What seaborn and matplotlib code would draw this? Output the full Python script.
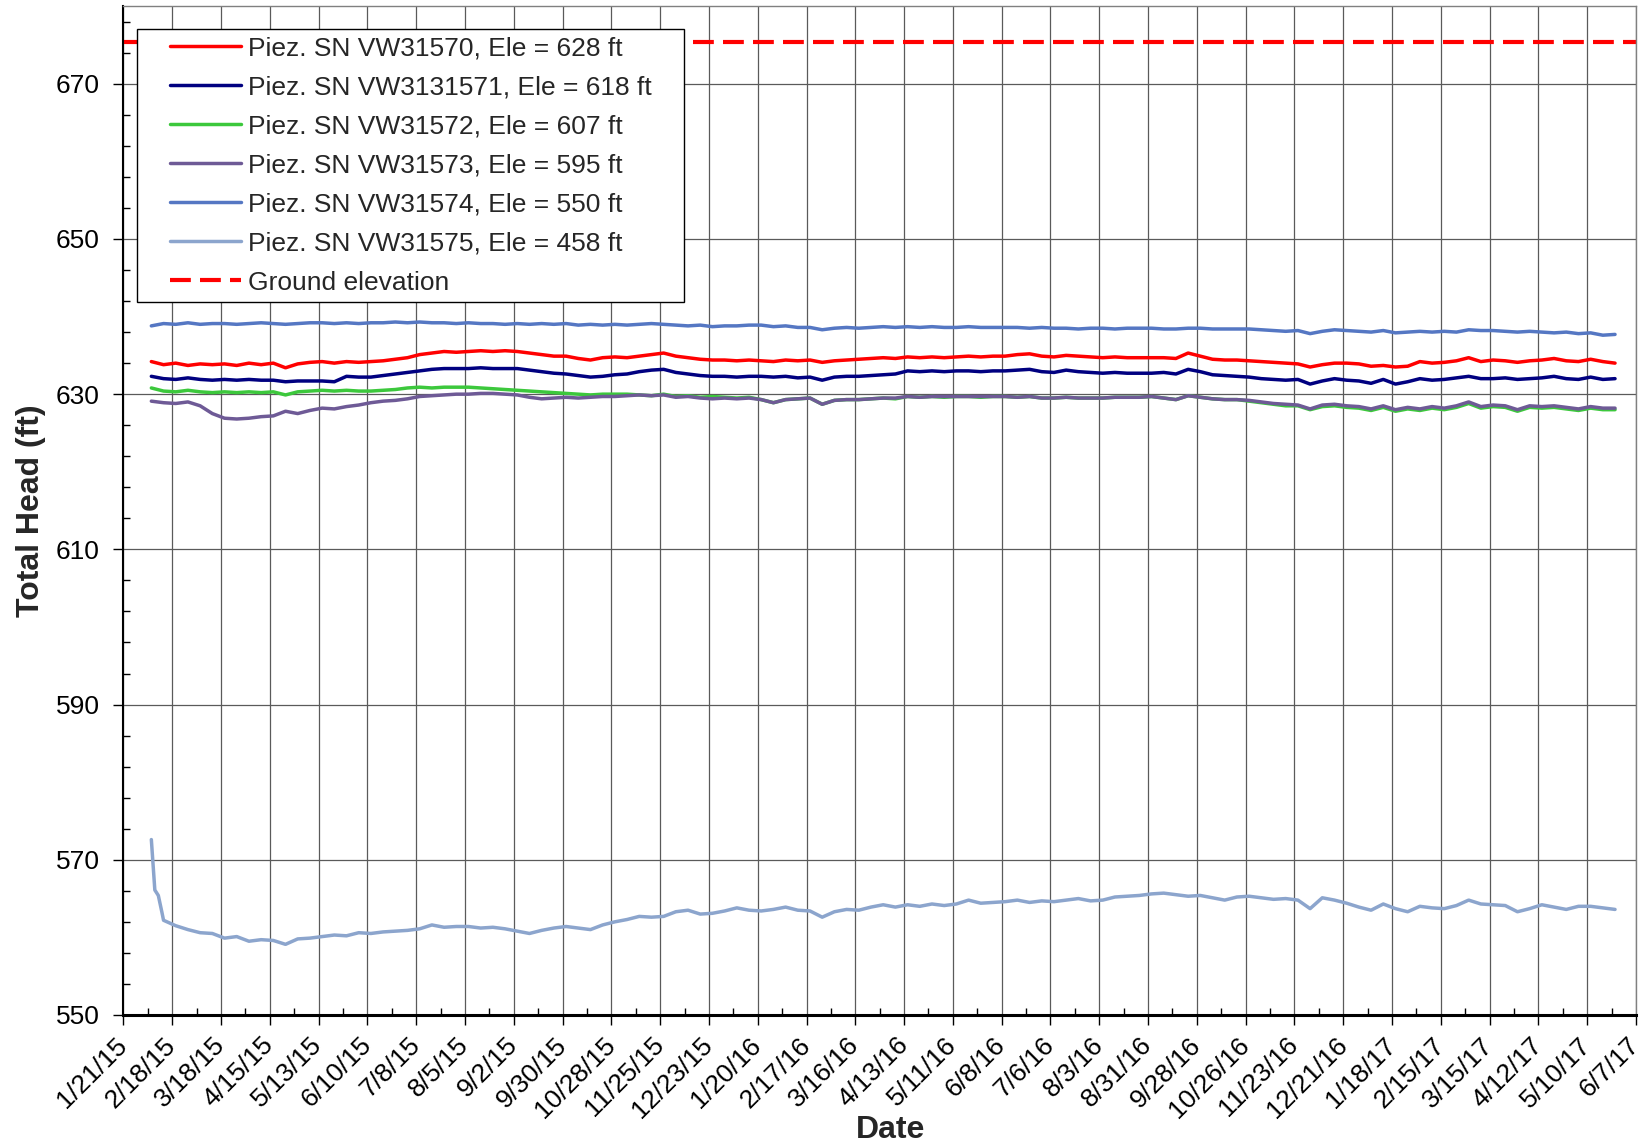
import numpy as np
import pandas as pd
import matplotlib
matplotlib.use("Agg")
import matplotlib.pyplot as plt
import matplotlib.ticker as mticker
import seaborn as sns
from matplotlib.lines import Line2D
from matplotlib.legend_handler import HandlerLine2D

sns.set_style("white")
plt.rcParams['font.family'] = ['Liberation Sans', 'DejaVu Sans']

# ---------------- data (weekly readings, 2015-02-06 .. 2017-05-26) ----------------
start_date = '2015-02-06'
n_weeks = 121

labels = ['Piez. SN VW31570, Ele = 628 ft',
          'Piez. SN VW3131571, Ele = 618 ft',
          'Piez. SN VW31572, Ele = 607 ft',
          'Piez. SN VW31573, Ele = 595 ft',
          'Piez. SN VW31574, Ele = 550 ft',
          'Piez. SN VW31575, Ele = 458 ft',
          'Ground elevation']

vw31570 = [
    634.2, 633.8, 634.0, 633.7, 633.9, 633.8, 633.9, 633.7, 634.0, 633.8,
    634.0, 633.4, 633.9, 634.1, 634.2, 634.0, 634.2, 634.1, 634.2, 634.3,
    634.5, 634.7, 635.1, 635.3, 635.5, 635.4, 635.5, 635.6, 635.5, 635.6,
    635.5, 635.3, 635.1, 634.9, 634.9, 634.6, 634.4, 634.7, 634.8, 634.7,
    634.9, 635.1, 635.3, 634.9, 634.7, 634.5, 634.4, 634.4, 634.3, 634.4,
    634.3, 634.2, 634.4, 634.3, 634.4, 634.1, 634.3, 634.4, 634.5, 634.6,
    634.7, 634.6, 634.8, 634.7, 634.8, 634.7, 634.8, 634.9, 634.8, 634.9,
    634.9, 635.1, 635.2, 634.9, 634.8, 635.0, 634.9, 634.8, 634.7, 634.8,
    634.7, 634.7, 634.7, 634.7, 634.6, 635.3, 634.9, 634.5, 634.4, 634.4,
    634.3, 634.2, 634.1, 634.0, 633.9, 633.5, 633.8, 634.0, 634.0, 633.9,
    633.6, 633.7, 633.5, 633.6, 634.2, 634.0, 634.1, 634.3, 634.7, 634.2,
    634.4, 634.3, 634.1, 634.3, 634.4, 634.6, 634.3, 634.2, 634.5, 634.2, 634.0]

vw3131571 = [
    632.3, 632.0, 631.9, 632.1, 631.9, 631.8, 631.9, 631.8, 631.9, 631.8,
    631.8, 631.6, 631.7, 631.7, 631.7, 631.6, 632.3, 632.2, 632.2, 632.4,
    632.6, 632.8, 633.0, 633.2, 633.3, 633.3, 633.3, 633.4, 633.3, 633.3,
    633.3, 633.1, 632.9, 632.7, 632.6, 632.4, 632.2, 632.3, 632.5, 632.6,
    632.9, 633.1, 633.2, 632.8, 632.6, 632.4, 632.3, 632.3, 632.2, 632.3,
    632.3, 632.2, 632.3, 632.1, 632.2, 631.8, 632.2, 632.3, 632.3, 632.4,
    632.5, 632.6, 633.0, 632.9, 633.0, 632.9, 633.0, 633.0, 632.9, 633.0,
    633.0, 633.1, 633.2, 632.9, 632.8, 633.1, 632.9, 632.8, 632.7, 632.8,
    632.7, 632.7, 632.7, 632.8, 632.6, 633.2, 632.9, 632.5, 632.4, 632.3,
    632.2, 632.0, 631.9, 631.8, 631.9, 631.3, 631.7, 632.0, 631.8, 631.7,
    631.4, 631.9, 631.3, 631.6, 632.0, 631.8, 631.9, 632.1, 632.3, 632.0,
    632.0, 632.1, 631.9, 632.0, 632.1, 632.3, 632.0, 631.9, 632.2, 631.9, 632.0]

vw31572 = [
    630.8, 630.4, 630.3, 630.5, 630.3, 630.2, 630.3, 630.2, 630.3, 630.2,
    630.3, 629.9, 630.3, 630.4, 630.5, 630.4, 630.5, 630.4, 630.4, 630.5,
    630.6, 630.8, 630.9, 630.8, 630.9, 630.9, 630.9, 630.8, 630.7, 630.6,
    630.5, 630.4, 630.3, 630.2, 630.1, 630.0, 629.9, 630.0, 630.0, 630.0,
    629.9, 629.8, 630.0, 629.7, 629.8, 629.6, 629.7, 629.6, 629.5, 629.6,
    629.3, 628.9, 629.3, 629.4, 629.5, 628.7, 629.2, 629.3, 629.3, 629.4,
    629.5, 629.4, 629.7, 629.6, 629.7, 629.6, 629.7, 629.7, 629.6, 629.7,
    629.7, 629.6, 629.7, 629.5, 629.5, 629.6, 629.5, 629.5, 629.5, 629.6,
    629.6, 629.6, 629.7, 629.5, 629.3, 629.8, 629.6, 629.4, 629.3, 629.3,
    629.1, 628.9, 628.7, 628.5, 628.5, 628.0, 628.4, 628.5, 628.3, 628.2,
    627.9, 628.3, 627.8, 628.1, 627.9, 628.2, 628.0, 628.3, 628.8, 628.2,
    628.4, 628.3, 627.8, 628.3, 628.2, 628.3, 628.1, 627.9, 628.2, 628.0, 628.0]

vw31573 = [
    629.1, 628.9, 628.8, 629.0, 628.5, 627.5, 626.9, 626.8, 626.9, 627.1,
    627.2, 627.8, 627.5, 627.9, 628.2, 628.1, 628.4, 628.6, 628.9, 629.1,
    629.2, 629.4, 629.7, 629.8, 629.9, 630.0, 630.0, 630.1, 630.1, 630.0,
    629.9, 629.6, 629.4, 629.5, 629.6, 629.5, 629.6, 629.7, 629.7, 629.8,
    629.9, 629.8, 629.9, 629.6, 629.7, 629.5, 629.4, 629.5, 629.4, 629.5,
    629.3, 628.9, 629.3, 629.4, 629.5, 628.7, 629.2, 629.3, 629.3, 629.4,
    629.5, 629.5, 629.7, 629.6, 629.7, 629.7, 629.7, 629.7, 629.7, 629.7,
    629.7, 629.6, 629.7, 629.5, 629.5, 629.6, 629.5, 629.5, 629.5, 629.6,
    629.6, 629.6, 629.7, 629.5, 629.3, 629.8, 629.6, 629.4, 629.3, 629.3,
    629.2, 629.0, 628.8, 628.7, 628.6, 628.1, 628.6, 628.7, 628.5, 628.4,
    628.1, 628.5, 628.0, 628.3, 628.1, 628.4, 628.2, 628.5, 629.0, 628.4,
    628.6, 628.5, 628.0, 628.5, 628.4, 628.5, 628.3, 628.1, 628.4, 628.2, 628.2]

vw31574 = [
    638.8, 639.1, 639.0, 639.2, 639.0, 639.1, 639.1, 639.0, 639.1, 639.2,
    639.1, 639.0, 639.1, 639.2, 639.2, 639.1, 639.2, 639.1, 639.2, 639.2,
    639.3, 639.2, 639.3, 639.2, 639.2, 639.1, 639.2, 639.1, 639.1, 639.0,
    639.1, 639.0, 639.1, 639.0, 639.1, 638.9, 639.0, 638.9, 639.0, 638.9,
    639.0, 639.1, 639.0, 638.9, 638.8, 638.9, 638.7, 638.8, 638.8, 638.9,
    638.9, 638.7, 638.8, 638.6, 638.6, 638.3, 638.5, 638.6, 638.5, 638.6,
    638.7, 638.6, 638.7, 638.6, 638.7, 638.6, 638.6, 638.7, 638.6, 638.6,
    638.6, 638.6, 638.5, 638.6, 638.5, 638.5, 638.4, 638.5, 638.5, 638.4,
    638.5, 638.5, 638.5, 638.4, 638.4, 638.5, 638.5, 638.4, 638.4, 638.4,
    638.4, 638.3, 638.2, 638.1, 638.2, 637.8, 638.1, 638.3, 638.2, 638.1,
    638.0, 638.2, 637.9, 638.0, 638.1, 638.0, 638.1, 638.0, 638.3, 638.2,
    638.2, 638.1, 638.0, 638.1, 638.0, 637.9, 638.0, 637.8, 637.9, 637.6, 637.7]

# VW31575: first days read separately (steep initial drop), then weekly from week 1
vw31575_head_dates = ['2015-02-06', '2015-02-08', '2015-02-10', '2015-02-12']
vw31575_head = [572.6, 566.1, 565.4, 563.3]
vw31575 = [
           562.2, 561.5, 561.0, 560.6, 560.5, 559.9, 560.1, 559.5, 559.7,
    559.6, 559.1, 559.8, 559.9, 560.1, 560.3, 560.2, 560.6, 560.5, 560.7,
    560.8, 560.9, 561.1, 561.6, 561.3, 561.4, 561.4, 561.2, 561.3, 561.1,
    560.8, 560.5, 560.9, 561.2, 561.4, 561.2, 561.0, 561.6, 562.0, 562.3,
    562.7, 562.6, 562.7, 563.3, 563.5, 563.0, 563.1, 563.4, 563.8, 563.5,
    563.4, 563.6, 563.9, 563.5, 563.4, 562.6, 563.3, 563.6, 563.5, 563.9,
    564.2, 563.9, 564.2, 564.0, 564.3, 564.1, 564.3, 564.8, 564.4, 564.5,
    564.6, 564.8, 564.5, 564.7, 564.6, 564.8, 565.0, 564.7, 564.8, 565.2,
    565.3, 565.4, 565.6, 565.7, 565.5, 565.3, 565.4, 565.1, 564.8, 565.2,
    565.3, 565.1, 564.9, 565.0, 564.8, 563.7, 565.1, 564.8, 564.4, 563.9,
    563.5, 564.3, 563.7, 563.3, 564.0, 563.8, 563.7, 564.1, 564.8, 564.3,
    564.2, 564.1, 563.3, 563.7, 564.2, 563.9, 563.6, 564.0, 564.0, 563.8, 563.6]

ground_dates = ['2015-01-21', '2017-06-07']
ground_elev = [675.4, 675.4]

xtick_start, xtick_end = '2015-01-21', '2017-06-07'
ytick_values = [550, 570, 590, 610, 630, 650, 670]

colors = ['#FF0000', '#000080', '#3CC83C', '#6E5A96', '#5577C3', '#8CA5CD', '#FF0000']

# ---------------- figure ----------------
weekly = pd.date_range(start_date, periods=n_weeks, freq='7D')
lb_dates = list(pd.to_datetime(vw31575_head_dates)) + list(weekly[1:])
lb_vals = vw31575_head + vw31575

fig = plt.figure(figsize=(16.44, 11.44), dpi=100)
ax = fig.add_axes([0.0751, 0.1128, 0.9200, 0.8818])

series = [(weekly, vw31570), (weekly, vw3131571), (weekly, vw31572),
          (weekly, vw31573), (weekly, vw31574), (lb_dates, lb_vals)]
for (d, v), lab, c in zip(series, labels[:6], colors[:6]):
    sns.lineplot(x=pd.to_datetime(pd.Series(d)), y=np.array(v), ax=ax, color=c,
                 lw=2.5, label=lab, sort=False)

sns.lineplot(x=pd.to_datetime(pd.Series(ground_dates)), y=np.array(ground_elev), ax=ax,
             color=colors[6], lw=3.0, linestyle=(0, (5, 2.2)), label=labels[6], sort=False)

ax.set_xlim(pd.Timestamp(xtick_start), pd.Timestamp(xtick_end))
ax.set_ylim(550, 680)

major = pd.date_range(xtick_start, xtick_end, freq='28D')
minor = pd.date_range(xtick_start, xtick_end, freq='14D')
ax.set_xticks(major)
ax.set_xticks(minor, minor=True)
ax.set_xticklabels([f"{t.month}/{t.day}/{t.strftime('%y')}" for t in major],
                   rotation=45, ha='right', va='center', rotation_mode='anchor')
ax.set_yticks(ytick_values)
ax.yaxis.set_minor_locator(mticker.FixedLocator(np.arange(550, 681, 4)))

ax.tick_params(axis='both', which='major', direction='out', length=7, width=1,
               labelsize=19, color='black', labelcolor='black')
ax.tick_params(axis='x', which='major', pad=12)
ax.tick_params(axis='y', which='major', pad=10)
ax.tick_params(axis='both', which='minor', direction='in', length=5, width=1, color='black')
ax.tick_params(axis='y', which='minor', left=True)
ax.tick_params(axis='x', which='minor', bottom=True)
ax.tick_params(axis='both', which='major', left=True, bottom=True)

ax.grid(True, which='major', color='#5a5a5a', lw=0.9)
ax.set_axisbelow(True)

for s in ['left', 'bottom']:
    ax.spines[s].set_color('black')
ax.spines['left'].set_linewidth(1.5)
ax.spines['bottom'].set_linewidth(2.2)
for s in ['top', 'right']:
    ax.spines[s].set_color('#808080')
    ax.spines[s].set_linewidth(1.0)

ax.set_xlabel('Date', fontsize=23, fontweight='bold')
ax.set_ylabel('Total Head (ft)', fontsize=23, fontweight='bold')
ax.xaxis.set_label_coords(0.507, -0.099)
ax.yaxis.set_label_coords(-0.0515, 0.5)

leg = ax.legend(loc='upper left', bbox_to_anchor=(0.00926, 0.5, 0.3613, 0.4774),
                mode='expand', borderaxespad=0, fontsize=19, frameon=True,
                fancybox=False, framealpha=1, edgecolor='black',
                borderpad=0.28, labelspacing=0.57, handlelength=3.63, handletextpad=0.27,
                handler_map={Line2D: HandlerLine2D(xpad=0.94)})
leg.get_frame().set_linewidth(1.0)

fig.savefig('out.png', dpi=100)
